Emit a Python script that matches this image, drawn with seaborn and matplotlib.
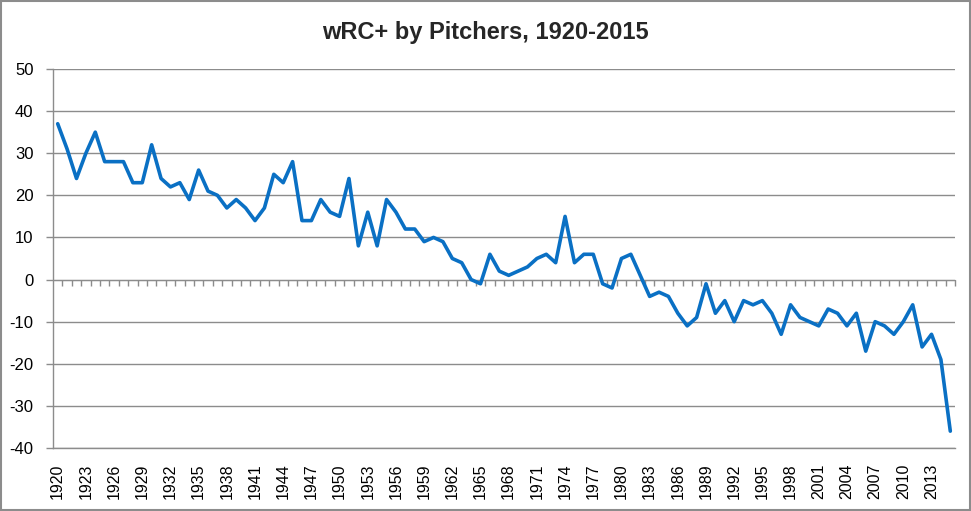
import numpy as np
import pandas as pd
import matplotlib
matplotlib.use("Agg")
import matplotlib.pyplot as plt
import seaborn as sns
from matplotlib.patches import Rectangle

# wRC+ by pitchers, one value per season
years = list(range(1920, 2016))
wrc_plus = [
    37, 31, 24, 30, 35, 28, 28, 28, 23, 23,   # 1920-1929
    32, 24, 22, 23, 19, 26, 21, 20, 17, 19,   # 1930-1939
    17, 14, 17, 25, 23, 28, 14, 14, 19, 16,   # 1940-1949
    15, 24, 8, 16, 8, 19, 16, 12, 12, 9,      # 1950-1959
    10, 9, 5, 4, 0, -1, 6, 2, 1, 2,           # 1960-1969
    3, 5, 6, 4, 15, 4, 6, 6, -1, -2,          # 1970-1979
    5, 6, 1, -4, -3, -4, -8, -11, -9, -1,     # 1980-1989
    -8, -5, -10, -5, -6, -5, -8, -13, -6, -9, # 1990-1999
    -10, -11, -7, -8, -11, -8, -17, -10, -11, -13,  # 2000-2009
    -10, -6, -16, -13, -19, -36,              # 2010-2015
]
label_years = years[::3]

df = pd.DataFrame({"year": years, "wrc": wrc_plus})

sns.set_style("white")
plt.rcParams["font.family"] = ["Liberation Sans", "DejaVu Sans"]
plt.rcParams["axes.unicode_minus"] = False

fig = plt.figure(figsize=(9.71, 5.11), dpi=100)
ax = fig.add_axes([53 / 971, 1 - 448 / 511, 902 / 971, 379 / 511])

sns.lineplot(data=df, x="year", y="wrc", ax=ax, color="#0A70C4", linewidth=2.6)

ax.set_xlim(1919.5, 2015.5)
ax.set_ylim(-40, 50)
ax.set_yticks(range(-40, 51, 10))
ax.yaxis.grid(True, color="#8c8c8c", linewidth=1)
ax.xaxis.grid(False)
ax.set_xlabel("")
ax.set_ylabel("")

for side in ["top", "right"]:
    ax.spines[side].set_visible(False)
for side in ["left", "bottom"]:
    ax.spines[side].set_color("#8c8c8c")
    ax.spines[side].set_linewidth(1)

ax.tick_params(axis="y", left=True, length=5, width=1, color="#8c8c8c",
               pad=9, labelsize=12, labelcolor="black")
ax.set_xticks(label_years)
ax.set_xticklabels([str(y) for y in label_years], rotation=90)
ax.tick_params(axis="x", bottom=False, length=0, pad=11, labelsize=11.5,
               labelcolor="black")

# category axis crossing at zero with small tick marks between seasons
zero_ax = ax.secondary_xaxis(40 / 90)
zero_ax.set_xticks([y + 0.5 for y in years])
zero_ax.tick_params(axis="x", direction="out", length=4, width=1,
                    color="#8c8c8c", labelbottom=False)
zero_ax.spines["bottom"].set_color("#8c8c8c")

fig.text(0.5, 1 - 32 / 511, "wRC+ by Pitchers, 1920-2015", ha="center",
         va="center", fontsize=17, fontweight="bold")

fig.patches.append(Rectangle((0.0015, 0.002), 0.997, 0.996,
                             transform=fig.transFigure, fill=False,
                             edgecolor="#8c8c8c", linewidth=1.5))

fig.savefig("out.png", dpi=100)
